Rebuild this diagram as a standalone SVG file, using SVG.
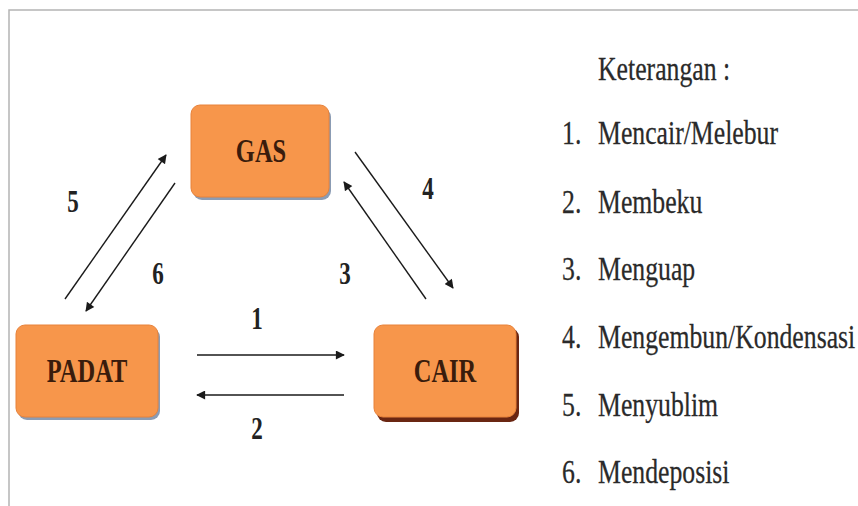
<svg xmlns="http://www.w3.org/2000/svg" width="858" height="506" viewBox="0 0 858 506">
<style>
.box{fill:#F7964B;stroke:#E8823A;stroke-width:1}
text{font-family:'Liberation Serif','Times New Roman',serif}
.lbl{font-weight:bold;font-size:34px;fill:#3a1c0c;text-anchor:middle}
.num{font-weight:bold;font-size:32px;fill:#222;text-anchor:middle}
.leg{font-size:33px;fill:#2a2a2a;stroke:#2a2a2a;stroke-width:0.25}
.conn{stroke:#1a1a1a;stroke-width:1.4;fill:none;marker-end:url(#ah)}
</style>
<defs>
<marker id="ah" viewBox="0 0 10 10" refX="9" refY="5" markerWidth="10" markerHeight="9" markerUnits="userSpaceOnUse" orient="auto">
<path d="M0,0 L10,5 L0,10 Z" fill="#1a1a1a"/>
</marker>
</defs>
<rect x="0" y="0" width="858" height="506" fill="#fff"/>
<path d="M9,506 V10 H858" fill="none" stroke="#b4b4b4" stroke-width="1.5"/>

<g id="gas">
<rect x="193" y="108" width="138" height="92" rx="9" fill="#8b9cb4"/>
<rect class="box" x="191" y="105" width="138" height="92" rx="9"/>
<text class="lbl" transform="translate(261,162) scale(0.72,1)">GAS</text>
</g>
<g id="padat">
<rect x="18" y="328" width="142" height="92" rx="9" fill="#8b9cb4"/>
<rect class="box" x="16" y="325" width="142" height="92" rx="9"/>
<text class="lbl" transform="translate(87,382) scale(0.72,1)">PADAT</text>
</g>
<g id="cair">
<rect x="377" y="328" width="142" height="94" rx="9" fill="#6a2612"/>
<rect class="box" x="374" y="325" width="142" height="92" rx="9"/>
<text class="lbl" transform="translate(445,382) scale(0.72,1)">CAIR</text>
</g>

<g id="connectors">
<line class="conn" x1="65" y1="299" x2="166" y2="155"/>
<line class="conn" x1="175" y1="183" x2="86" y2="311"/>
<line class="conn" x1="355" y1="152" x2="453" y2="288"/>
<line class="conn" x1="426" y1="299" x2="344" y2="182"/>
<line class="conn" x1="197" y1="355" x2="344" y2="355"/>
<line class="conn" x1="344" y1="395" x2="197" y2="395"/>
</g>

<g id="numbers">
<text class="num" transform="translate(73,212) scale(0.72,1)">5</text>
<text class="num" transform="translate(158,284) scale(0.72,1)">6</text>
<text class="num" transform="translate(428,199) scale(0.72,1)">4</text>
<text class="num" transform="translate(345,284) scale(0.72,1)">3</text>
<text class="num" transform="translate(257,329) scale(0.72,1)">1</text>
<text class="num" transform="translate(257,439) scale(0.72,1)">2</text>
</g>

<g id="legend" transform="translate(598,0) scale(0.78,1)">
<text class="leg" x="0" y="80">Keterangan :</text>
<text class="leg" x="-46" y="144">1.</text><text class="leg" x="0" y="144">Mencair/Melebur</text>
<text class="leg" x="-46" y="213">2.</text><text class="leg" x="0" y="213">Membeku</text>
<text class="leg" x="-46" y="280">3.</text><text class="leg" x="0" y="280">Menguap</text>
<text class="leg" x="-46" y="348">4.</text><text class="leg" x="0" y="348">Mengembun/Kondensasi</text>
<text class="leg" x="-46" y="416">5.</text><text class="leg" x="0" y="416">Menyublim</text>
<text class="leg" x="-46" y="483">6.</text><text class="leg" x="0" y="483">Mendeposisi</text>
</g>
</svg>
